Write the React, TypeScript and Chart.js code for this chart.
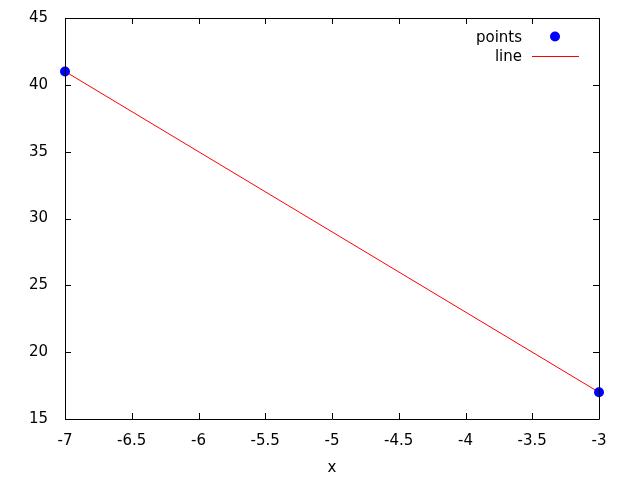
import React, { useEffect, useRef } from "react";
import { Chart, registerables } from "chart.js";

Chart.register(...registerables);

const pointXs = [-7, -3];
const pointYs = [41, 17];
const lineXs = [-7, -3];
const lineYs = [41, 17];
const xTicks = [-7, -6.5, -6, -5.5, -5, -4.5, -4, -3.5, -3];
const yTicks = [15, 20, 25, 30, 35, 40, 45];
const xTitle = "x";
const legendLabels = ["points", "line"];

const FONT = "DejaVu Sans";
const FS = 15;

const framePlugin = {
  id: "gnuframe",
  afterDraw(chart: any) {
    const { ctx, chartArea: a, scales } = chart;
    const xs = scales.x;
    const ys = scales.y;
    ctx.save();
    ctx.strokeStyle = "#000";
    ctx.lineWidth = 1;
    ctx.beginPath();
    ctx.rect(Math.round(a.left) + 0.5, Math.round(a.top) + 0.5, Math.round(a.right - a.left), Math.round(a.bottom - a.top));
    ctx.stroke();
    const tl = 6;
    ctx.beginPath();
    xTicks.forEach((v) => {
      const px = Math.round(xs.getPixelForValue(v)) + 0.5;
      ctx.moveTo(px, a.bottom);
      ctx.lineTo(px, a.bottom - tl);
      ctx.moveTo(px, a.top);
      ctx.lineTo(px, a.top + tl);
    });
    yTicks.forEach((v) => {
      const py = Math.round(ys.getPixelForValue(v)) + 0.5;
      ctx.moveTo(a.left, py);
      ctx.lineTo(a.left + tl, py);
      ctx.moveTo(a.right, py);
      ctx.lineTo(a.right - tl, py);
    });
    ctx.stroke();
    // legend
    ctx.font = `${FS}px "${FONT}"`;
    ctx.fillStyle = "#000";
    ctx.textAlign = "right";
    ctx.textBaseline = "middle";
    ctx.fillText(legendLabels[0], 522, 38);
    ctx.fillText(legendLabels[1], 522, 57);
    ctx.fillStyle = "#0000ff";
    ctx.beginPath();
    ctx.arc(555, 36.5, 5, 0, Math.PI * 2);
    ctx.fill();
    ctx.strokeStyle = "#ff0000";
    ctx.beginPath();
    ctx.moveTo(532, 56.5);
    ctx.lineTo(579, 56.5);
    ctx.stroke();
    ctx.restore();
  },
};

export default function App() {
  const ref = useRef<HTMLCanvasElement>(null);
  useEffect(() => {
    if (!ref.current) return;
    const chart = new Chart(ref.current, {
      type: "scatter",
      data: {
        datasets: [
          {
            label: legendLabels[1],
            data: lineXs.map((x, i) => ({ x, y: lineYs[i] })),
            showLine: true,
            borderColor: "#ff0000",
            borderWidth: 1,
            pointRadius: 0,
            order: 2,
            clip: false,
          },
          {
            label: legendLabels[0],
            data: pointXs.map((x, i) => ({ x, y: pointYs[i] })),
            backgroundColor: "#0000ff",
            borderColor: "#0000ff",
            pointRadius: 5,
            borderWidth: 0,
            order: 1,
            clip: false,
          },
        ],
      },
      options: {
        animation: false,
        responsive: false,
        layout: { padding: { top: 18, right: 41, left: 0, bottom: 0 } },
        plugins: { legend: { display: false }, tooltip: { enabled: false } },
        scales: {
          x: {
            type: "linear",
            min: -7,
            max: -3,
            afterBuildTicks: (s: any) => {
              s.ticks = xTicks.map((v) => ({ value: v }));
            },
            afterFit: (s: any) => {
              s.height = 61;
            },
            grid: { display: false },
            border: { display: false },
            ticks: {
              color: "#000",
              font: { family: FONT, size: FS },
              padding: 5,
              maxRotation: 0,
              autoSkip: false,
              callback: (v: any) => String(v),
            },
            title: {
              display: true,
              text: xTitle,
              color: "#000",
              font: { family: FONT, size: FS },
              padding: { top: 2, bottom: 3 },
            },
          },
          y: {
            type: "linear",
            min: 15,
            max: 45,
            afterBuildTicks: (s: any) => {
              s.ticks = yTicks.map((v) => ({ value: v }));
            },
            afterFit: (s: any) => {
              s.width = 65;
            },
            grid: { display: false },
            border: { display: false },
            ticks: {
              color: "#000",
              font: { family: FONT, size: FS },
              padding: 9,
              autoSkip: false,
              callback: (v: any) => String(v),
            },
          },
        },
      },
      plugins: [framePlugin],
    });
    return () => chart.destroy();
  }, []);
  return (
    <div style={{ position: "fixed", left: 0, top: 0, width: 640, height: 480, background: "#fff" }}>
      <canvas ref={ref} width={640} height={480} style={{ width: 640, height: 480 }} />
    </div>
  );
}
